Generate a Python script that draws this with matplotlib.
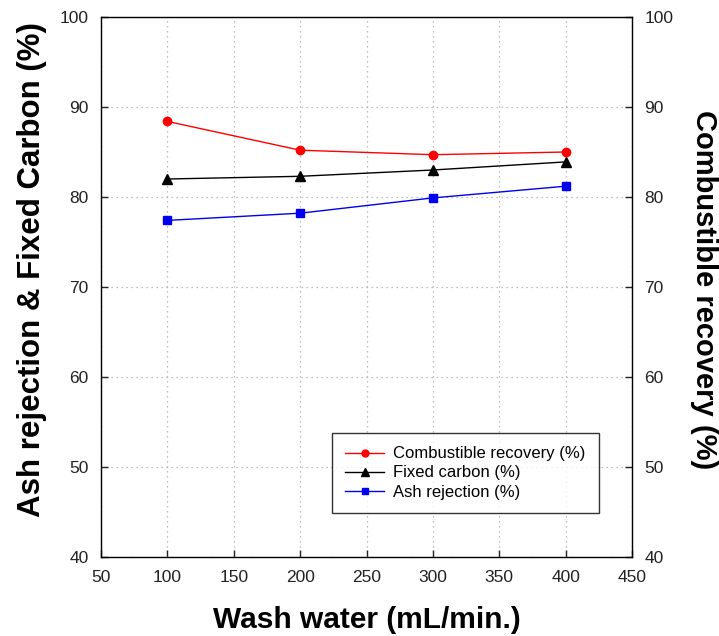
import matplotlib.pyplot as plt
from matplotlib.lines import Line2D

plt.rcParams['font.family'] = ['Liberation Sans', 'DejaVu Sans']

wash_water = [100, 200, 300, 400]
combustible_recovery = [88.4, 85.2, 84.7, 85.0]
fixed_carbon = [82.0, 82.3, 83.0, 83.9]
ash_rejection = [77.4, 78.2, 79.9, 81.2]

x_ticks = [50, 100, 150, 200, 250, 300, 350, 400, 450]
y_ticks = [40, 50, 60, 70, 80, 90, 100]

W, H = 719, 636
fig = plt.figure(figsize=(W / 100, H / 100), dpi=100)
ax = fig.add_axes([101 / W, 1 - 557 / H, 531 / W, 540 / H])
ax2 = ax.twinx()

ax.plot(wash_water, fixed_carbon, color='black', lw=1, marker='^', ms=7)
ax.plot(wash_water, ash_rejection, color='#0000ee', lw=1, marker='s', ms=6)
ax2.plot(wash_water, combustible_recovery, color='#ff0000', lw=1, marker='o', ms=6)

for a in (ax, ax2):
    a.set_ylim(40, 100)
    a.set_yticks(y_ticks)
    a.tick_params(direction='in', length=5, width=1, labelsize=12.5, colors='#222222')
ax.tick_params(axis='y', pad=9)
ax2.tick_params(axis='y', pad=9)
ax.set_xlim(50, 450)
ax.set_xticks(x_ticks)
ax.tick_params(axis='x', pad=9)

ax.grid(True, linestyle=(0, (1, 3)), color='#aaaaaa', lw=0.9)
for s in ax.spines.values():
    s.set_linewidth(1.0)
    s.set_color('#333333')

ax.set_xlabel('Wash water (mL/min.)', fontsize=21.5, fontweight='bold', va='center')
ax.xaxis.set_label_coords(0.5, -0.117)
ax.set_ylabel('Ash rejection & Fixed Carbon (%)', fontsize=22.5, fontweight='bold', va='center')
ax.yaxis.set_label_coords(-0.130, 0.532)
ax2.set_ylabel('Combustible recovery (%)', fontsize=21, fontweight='bold', rotation=270, va='center')
ax2.yaxis.set_label_coords(1.135, 0.495)

handles = [
    Line2D([], [], color='#ff0000', lw=1, marker='o', ms=5),
    Line2D([], [], color='black', lw=1, marker='^', ms=5.5),
    Line2D([], [], color='#0000ee', lw=1, marker='s', ms=5),
]
labels = ['Combustible recovery (%)', 'Fixed carbon (%)', 'Ash rejection (%)']
leg = ax2.legend(handles, labels, loc='upper left',
                 bbox_to_anchor=(332 / W, 1 - 433 / H), bbox_transform=fig.transFigure,
                 fontsize=12, frameon=True, fancybox=False, handlelength=2.3,
                 labelspacing=0.25, borderpad=0.8, handletextpad=0.55, borderaxespad=0)
leg.get_frame().set_edgecolor('black')
leg.get_frame().set_linewidth(1.0)

fig.savefig('out.png', dpi=100)
